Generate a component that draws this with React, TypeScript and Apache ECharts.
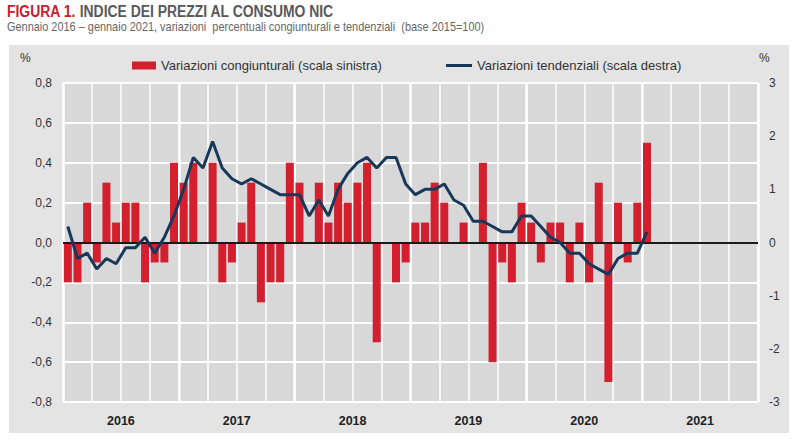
import { useEffect, useRef } from "react";
import * as echarts from "echarts";

const NARROW = "'Liberation Sans Narrow', 'Arial Narrow', 'Liberation Sans', Arial, sans-serif";
const RED = "#D31F2E";
const NAVY = "#18385A";
const INK = "#333333";

const YEARS = ["2016", "2017", "2018", "2019", "2020", "2021"];
const MONTHS = ["gen", "feb", "mar", "apr", "mag", "giu", "lug", "ago", "set", "ott", "nov", "dic"];

// variazioni congiunturali, gen 2016 - gen 2021 (scala sinistra)
const CONGIUNTURALI = [
  -0.2, -0.2, 0.2, -0.1, 0.3, 0.1, 0.2, 0.2, -0.2, -0.1, -0.1, 0.4,
  0.3, 0.4, 0.0, 0.4, -0.2, -0.1, 0.1, 0.3, -0.3, -0.2, -0.2, 0.4,
  0.3, 0.0, 0.3, 0.1, 0.3, 0.2, 0.3, 0.4, -0.5, 0.0, -0.2, -0.1,
  0.1, 0.1, 0.3, 0.2, 0.0, 0.1, 0.0, 0.4, -0.6, -0.1, -0.2, 0.2,
  0.1, -0.1, 0.1, 0.1, -0.2, 0.1, -0.2, 0.3, -0.7, 0.2, -0.1, 0.2,
  0.5,
];

// variazioni tendenziali (scala destra)
const TENDENZIALI = [
  0.3, -0.3, -0.2, -0.5, -0.3, -0.4, -0.1, -0.1, 0.1, -0.2, 0.1, 0.5,
  1.0, 1.6, 1.4, 1.9, 1.4, 1.2, 1.1, 1.2, 1.1, 1.0, 0.9, 0.9,
  0.9, 0.5, 0.8, 0.5, 1.0, 1.3, 1.5, 1.6, 1.4, 1.6, 1.6, 1.1,
  0.9, 1.0, 1.0, 1.1, 0.8, 0.7, 0.4, 0.4, 0.3, 0.2, 0.2, 0.5,
  0.5, 0.3, 0.1, 0.0, -0.2, -0.2, -0.4, -0.5, -0.6, -0.3, -0.2, -0.2,
  0.2,
];

const MONTH_CATS = YEARS.flatMap((y) => MONTHS.map((m) => `${m} ${y}`));

const BAR_NAME = "Variazioni congiunturali (scala sinistra)";
const LINE_NAME = "Variazioni tendenziali (scala destra)";

export default function App() {
  const ref = useRef<HTMLDivElement>(null);

  useEffect(() => {
    if (!ref.current) return;
    document.body.style.margin = "0";
    const chart = echarts.init(ref.current, null, { renderer: "svg" });

    chart.setOption({
      animation: false,
      textStyle: { fontFamily: NARROW },
      graphic: [
        {
          type: "rect",
          z: -10,
          shape: { x: 9, y: 45, width: 780, height: 388 },
          style: { fill: "#E4E4E4" },
        },
        {
          type: "text",
          x: 7,
          y: 3,
          scaleX: 0.87,
          style: {
            text: "{r|FIGURA 1.}{g| INDICE DEI PREZZI AL CONSUMO NIC}",
            verticalAlign: "top",
            rich: {
              r: { fill: "#C8202E", fontSize: 16, fontWeight: "bold", fontFamily: NARROW },
              g: { fill: "#595959", fontSize: 16, fontWeight: "bold", fontFamily: NARROW },
            },
          },
        },
        {
          type: "text",
          x: 7,
          y: 20,
          scaleX: 0.875,
          style: {
            text: "Gennaio 2016 – gennaio 2021, variazioni  percentuali congiunturali e tendenziali  (base 2015=100)",
            verticalAlign: "top",
            fill: "#666666",
            fontSize: 12.5,
            fontFamily: NARROW,
          },
        },
        { type: "text", left: 20, top: 52, style: { text: "%", fill: INK, fontSize: 12, fontFamily: NARROW } },
        { type: "text", left: 759, top: 52, style: { text: "%", fill: INK, fontSize: 12, fontFamily: NARROW } },
      ],
      legend: [
        {
          left: 127,
          top: 54,
          itemWidth: 24,
          itemHeight: 8,
          textStyle: { color: INK, fontSize: 13, fontFamily: NARROW },
          data: [{ name: BAR_NAME, icon: "rect" }],
        },
        {
          left: 441,
          top: 54,
          itemWidth: 26,
          itemHeight: 3,
          textStyle: { color: INK, fontSize: 13, fontFamily: NARROW },
          data: [{ name: LINE_NAME, icon: "rect" }],
        },
      ],
      grid: {
        left: 63,
        right: 37,
        top: 83,
        bottom: 46,
        show: true,
        backgroundColor: "#D8D8D8",
        borderWidth: 0,
      },
      xAxis: [
        {
          type: "category",
          data: MONTH_CATS,
          boundaryGap: true,
          axisLine: { show: false },
          axisTick: { show: false },
          axisLabel: { show: false },
          splitLine: { show: true, interval: 2, lineStyle: { color: "#FFFFFF", width: 1.5 } },
        },
        {
          type: "category",
          data: YEARS,
          position: "bottom",
          boundaryGap: true,
          axisLine: { show: false },
          axisTick: { show: false },
          axisLabel: { color: "#222222", fontSize: 12.5, fontWeight: "bold", margin: 12, fontFamily: NARROW },
          splitLine: { show: true, interval: 0, lineStyle: { color: "#FFFFFF", width: 2.5 } },
        },
      ],
      yAxis: [
        {
          type: "value",
          min: -0.8,
          max: 0.8,
          interval: 0.2,
          position: "left",
          axisLine: { show: false },
          axisTick: { show: false },
          axisLabel: {
            color: INK,
            fontSize: 12,
            margin: 11,
            formatter: (v: number) => v.toFixed(1).replace(".", ","),
          },
          splitLine: { lineStyle: { color: "#FFFFFF", width: 2 } },
        },
        {
          type: "value",
          min: -3,
          max: 3,
          interval: 1,
          position: "right",
          axisLine: { show: false },
          axisTick: { show: false },
          axisLabel: { color: INK, fontSize: 12, margin: 11, formatter: (v: number) => String(Math.round(v)) },
          splitLine: { show: false },
        },
      ],
      series: [
        {
          name: BAR_NAME,
          type: "bar",
          xAxisIndex: 0,
          yAxisIndex: 0,
          data: CONGIUNTURALI,
          barWidth: 8,
          itemStyle: { color: RED },
          markLine: {
            silent: true,
            symbol: ["none", "none"],
            label: { show: false },
            lineStyle: { color: "#1A1A1A", width: 2, type: "solid" },
            data: [{ yAxis: 0 }],
          },
        },
        {
          name: LINE_NAME,
          type: "line",
          xAxisIndex: 0,
          yAxisIndex: 1,
          data: TENDENZIALI,
          symbol: "none",
          z: 5,
          lineStyle: { color: NAVY, width: 3 },
          itemStyle: { color: NAVY },
        },
      ],
    });

    return () => chart.dispose();
  }, []);

  return <div ref={ref} style={{ width: 795, height: 448 }} />;
}
